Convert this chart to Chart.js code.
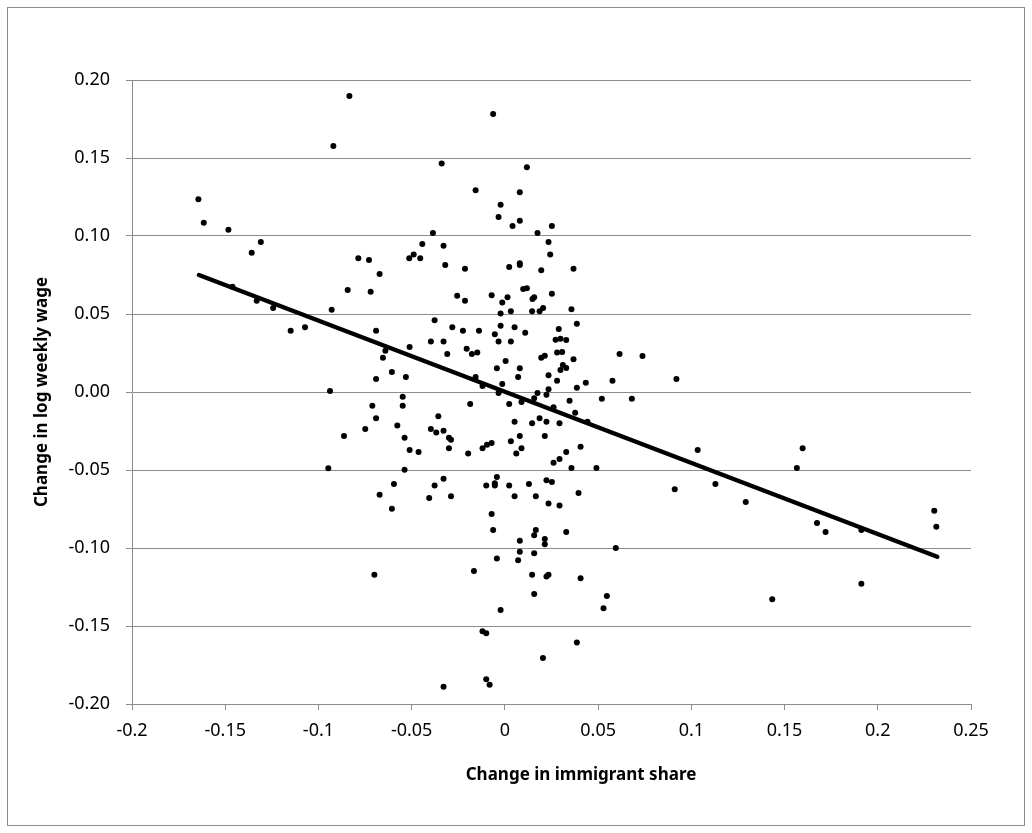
<!DOCTYPE html>
<html>
<head>
<meta charset="utf-8">
<script src="https://cdn.jsdelivr.net/npm/chart.js@4.4.1/dist/chart.umd.min.js"></script>
<style>
  html, body { margin: 0; padding: 0; background: #ffffff; }
  #wrap { width: 1032px; height: 833px; position: relative; }
</style>
</head>
<body>
<div id="wrap"><canvas id="wageChart" width="1032" height="833"></canvas></div>
<script>
// Change in immigrant share (x) and change in log weekly wage (y)
var immigrantShare = [
	-0.1644, -0.1615, -0.1483, -0.1309, -0.1358, -0.1461, -0.1331, -0.1243, -0.1149, -0.1072,
	-0.0929, -0.0938, -0.0947, -0.0834, -0.0920, -0.0339, -0.0386, -0.0443, -0.0329, -0.0786,
	-0.0729, -0.0489, -0.0513, -0.0454, -0.0320, -0.0672, -0.0843, -0.0720, -0.0256, -0.0377,
	-0.0282, -0.0691, -0.0511, -0.0397, -0.0329, -0.0309, -0.0641, -0.0654, -0.0606, -0.0691,
	-0.0531, -0.0548, -0.0548, -0.0711, -0.0691, -0.0357, -0.0749, -0.0577, -0.0863, -0.0397,
	-0.0368, -0.0329, -0.0538, -0.0300, -0.0289, -0.0300, -0.0511, -0.0463, -0.0538, -0.0595,
	-0.0329, -0.0377, -0.0672, -0.0406, -0.0289, -0.0606, -0.0700, -0.0329,
	-0.0063, 0.0118, -0.0157, 0.0080, -0.0023, -0.0034, 0.0080, 0.0041, 0.0252, 0.0175,
	0.0234, 0.0243, -0.0214, 0.0023, 0.0080, 0.0080, 0.0195, -0.0214, -0.0071, 0.0014,
	-0.0014, 0.0098, 0.0118, 0.0157, 0.0148, 0.0252, -0.0023, 0.0032, 0.0146, 0.0186,
	0.0205, -0.0225, -0.0139, -0.0023, 0.0052, -0.0054, -0.0034, 0.0032, 0.0109, 0.0289,
	0.0272, -0.0205, -0.0177, -0.0148, 0.0004, -0.0043, 0.0080, 0.0195, 0.0214, 0.0280,
	0.0071, 0.0234, 0.0280, -0.0157, -0.0120, -0.0014, -0.0034, 0.0175, 0.0223, 0.0234,
	-0.0186, 0.0023, 0.0089, 0.0157, 0.0261, 0.0052, 0.0146, 0.0186, 0.0223, 0.0293,
	0.0080, 0.0214, 0.0032, -0.0197, -0.0120, -0.0096, -0.0071, 0.0089, 0.0061, 0.0261,
	0.0293, -0.0043, -0.0100, -0.0054, -0.0054, 0.0023, 0.0129, 0.0223, 0.0252, 0.0052,
	0.0166, 0.0234, 0.0293, -0.0071, -0.0063, 0.0166, 0.0157, 0.0214, 0.0214, 0.0080,
	0.0080, 0.0157, -0.0043, 0.0071, -0.0166, 0.0146, 0.0223, 0.0234, 0.0157, -0.0023,
	-0.0120, -0.0100, 0.0204, -0.0100, -0.0082,
	0.0368, 0.0357, 0.0386, 0.0298, 0.0329, 0.0307, 0.0368, 0.0615, 0.0738, 0.0311,
	0.0329, 0.0298, 0.0386, 0.0434, 0.0577, 0.0347, 0.0520, 0.0681, 0.0377, 0.0443,
	0.0406, 0.0329, 0.0357, 0.0491, 0.0395, 0.0329, 0.0595, 0.0406, 0.0547, 0.0529,
	0.0386,
	0.0920, 0.1034, 0.0911, 0.1129, 0.1292, 0.1597, 0.1566, 0.1674, 0.1720, 0.1912,
	0.1912, 0.1434, 0.2303, 0.2314
];
var wageChange = [
	0.1235, 0.1085, 0.1040, 0.0962, 0.0893, 0.0675, 0.0585, 0.0538, 0.0393, 0.0415,
	0.0528, 0.0006, -0.0489, 0.1897, 0.1577, 0.1464, 0.1019, 0.0949, 0.0938, 0.0857,
	0.0846, 0.0882, 0.0857, 0.0857, 0.0814, 0.0756, 0.0654, 0.0643, 0.0617, 0.0460,
	0.0415, 0.0393, 0.0288, 0.0323, 0.0323, 0.0244, 0.0265, 0.0220, 0.0128, 0.0083,
	0.0096, -0.0030, -0.0088, -0.0088, -0.0169, -0.0156, -0.0237, -0.0214, -0.0282, -0.0237,
	-0.0259, -0.0248, -0.0293, -0.0293, -0.0306, -0.0361, -0.0372, -0.0385, -0.0498, -0.0590,
	-0.0556, -0.0600, -0.0658, -0.0679, -0.0669, -0.0748, -0.1171, -0.1889,
	0.1782, 0.1440, 0.1293, 0.1280, 0.1201, 0.1122, 0.1098, 0.1064, 0.1064, 0.1019,
	0.0962, 0.0882, 0.0790, 0.0801, 0.0825, 0.0814, 0.0780, 0.0585, 0.0620, 0.0607,
	0.0573, 0.0660, 0.0665, 0.0607, 0.0596, 0.0630, 0.0504, 0.0517, 0.0517, 0.0517,
	0.0538, 0.0393, 0.0393, 0.0425, 0.0415, 0.0370, 0.0323, 0.0323, 0.0380, 0.0404,
	0.0335, 0.0278, 0.0244, 0.0254, 0.0199, 0.0152, 0.0152, 0.0220, 0.0233, 0.0254,
	0.0096, 0.0107, 0.0072, 0.0096, 0.0038, 0.0051, -0.0006, -0.0006, -0.0017, 0.0017,
	-0.0077, -0.0077, -0.0064, -0.0040, -0.0098, -0.0190, -0.0201, -0.0169, -0.0190, -0.0201,
	-0.0282, -0.0282, -0.0316, -0.0395, -0.0361, -0.0338, -0.0327, -0.0361, -0.0395, -0.0453,
	-0.0430, -0.0545, -0.0600, -0.0600, -0.0585, -0.0600, -0.0590, -0.0566, -0.0577, -0.0669,
	-0.0669, -0.0714, -0.0727, -0.0782, -0.0885, -0.0885, -0.0919, -0.0942, -0.0976, -0.0953,
	-0.1024, -0.1034, -0.1068, -0.1079, -0.1147, -0.1171, -0.1182, -0.1171, -0.1295, -0.1397,
	-0.1534, -0.1547, -0.1705, -0.1842, -0.1876,
	0.0790, 0.0530, 0.0438, 0.0342, 0.0333, 0.0256, 0.0210, 0.0244, 0.0231, 0.0173,
	0.0154, 0.0141, 0.0028, 0.0060, 0.0072, -0.0056, -0.0043, -0.0043, -0.0133, -0.0190,
	-0.0351, -0.0385, -0.0487, -0.0487, -0.0647, -0.0897, -0.1000, -0.1194, -0.1308, -0.1387,
	-0.1605,
	0.0083, -0.0372, -0.0624, -0.0590, -0.0705, -0.0361, -0.0487, -0.0840, -0.0897, -0.0885,
	-0.1229, -0.1329, -0.0761, -0.0863
];
// Fitted line end points
var trendX = [-0.1641, 0.2319];
var trendY = [0.0750, -0.1056];

var xTitle = "Change in immigrant share";
var yTitle = "Change in log weekly wage";

var GRID_GREY = '#8c8c8c';
var FONT = '"Noto Sans", "Open Sans", sans-serif';

function toPoints(xs, ys) {
	var pts = [];
	for (var i = 0; i < xs.length; i++) {
		pts.push({ x: xs[i], y: ys[i] });
	}
	return pts;
}

// Frame round the whole chart and the two axis titles
var framePlugin = {
	id: 'frame',
	beforeDraw: function (chart) {
		var ctx = chart.ctx;
		ctx.save();
		ctx.fillStyle = '#ffffff';
		ctx.fillRect(0, 0, chart.width, chart.height);
		ctx.strokeStyle = GRID_GREY;
		ctx.lineWidth = 1;
		ctx.strokeRect(7.5, 7.5, 1017, 818);
		ctx.restore();
	},
	afterDraw: function (chart) {
		var ctx = chart.ctx;
		ctx.save();
		ctx.fillStyle = '#000000';
		ctx.font = 'bold 17px ' + FONT;
		ctx.textAlign = 'center';
		ctx.textBaseline = 'middle';
		ctx.fillText(xTitle, 581, 775);
		ctx.translate(42, 392);
		ctx.rotate(-Math.PI / 2);
		ctx.fillText(yTitle, 0, 0);
		ctx.restore();
	}
};

var wageChart = new Chart(document.getElementById('wageChart'), {
	type: 'scatter',
	data: {
		datasets: [
			{
				label: 'Regions',
				data: toPoints(immigrantShare, wageChange),
				backgroundColor: '#000000',
				borderColor: '#000000',
				pointRadius: 3,
				pointBorderWidth: 0,
				order: 2
			},
			{
				label: 'Fit',
				type: 'line',
				data: toPoints(trendX, trendY),
				borderColor: '#000000',
				borderWidth: 4.5,
				borderCapStyle: 'round',
				pointRadius: 0,
				fill: false,
				order: 1
			}
		]
	},
	options: {
		responsive: false,
		animation: false,
		devicePixelRatio: 1,
		layout: { padding: { left: 0, right: 61, top: 80, bottom: 0 } },
		plugins: {
			legend: { display: false },
			tooltip: { enabled: false }
		},
		scales: {
			x: {
				type: 'linear',
				min: -0.2,
				max: 0.25,
				afterFit: function (scale) { scale.height = 129; },
				ticks: {
					stepSize: 0.05,
					padding: 10,
					color: '#000000',
					font: { family: FONT, size: 18 },
					maxRotation: 0,
					callback: function (v) { return String(Number(v.toFixed(2))); }
				},
				grid: {
					drawOnChartArea: false,
					drawTicks: true,
					tickLength: 6,
					color: GRID_GREY
				},
				border: { color: GRID_GREY, width: 1 }
			},
			y: {
				type: 'linear',
				min: -0.2,
				max: 0.2,
				afterFit: function (scale) { scale.width = 132; },
				ticks: {
					stepSize: 0.05,
					padding: 16,
					color: '#000000',
					font: { family: FONT, size: 18 },
					callback: function (v) { return v.toFixed(2); }
				},
				grid: {
					color: GRID_GREY,
					lineWidth: 1,
					drawTicks: true,
					tickLength: 6
				},
				border: { color: GRID_GREY, width: 1 }
			}
		}
	},
	plugins: [framePlugin]
});
</script>
</body>
</html>
